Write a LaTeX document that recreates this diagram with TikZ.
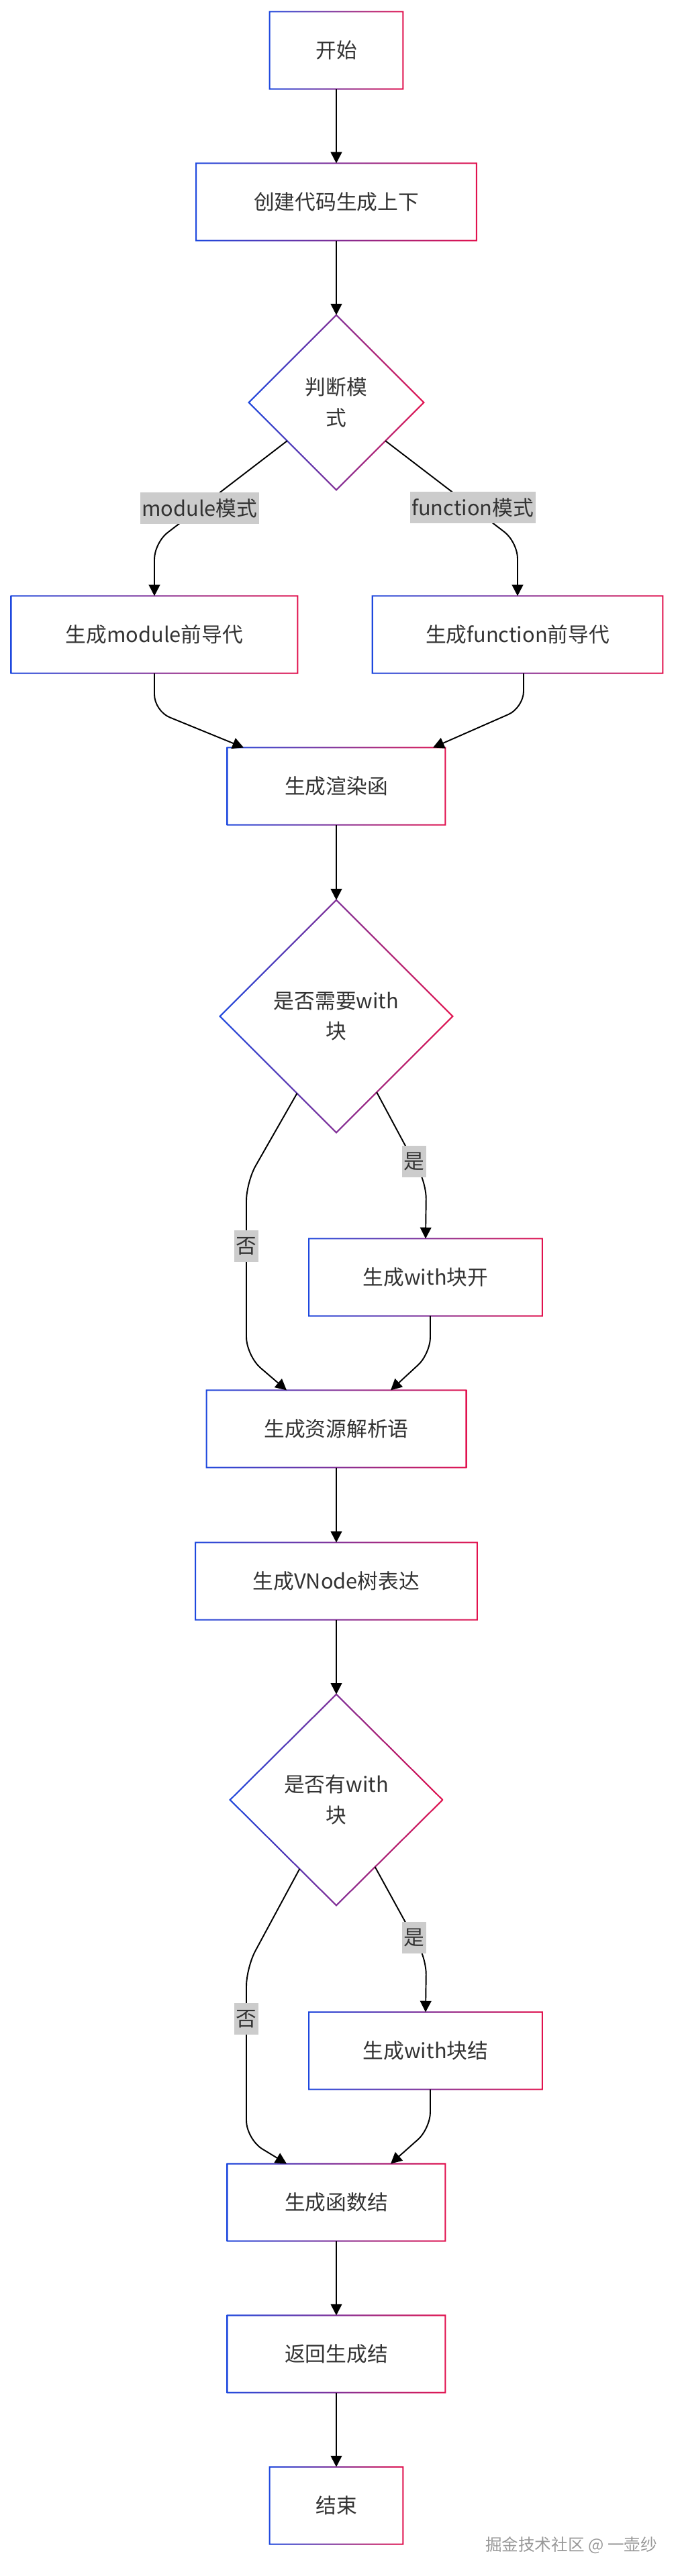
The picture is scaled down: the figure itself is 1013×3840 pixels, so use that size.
\documentclass[tikz,border=0pt]{standalone}
\usepackage{fontspec}
\setmainfont{Noto Sans CJK SC}
\usetikzlibrary{shapes.geometric,arrows.meta}
\definecolor{edgeblue}{RGB}{30,72,222}
\definecolor{edgered}{RGB}{226,18,78}
\definecolor{ink}{RGB}{51,51,51}
% gradient outline of a box / a diamond
\newcommand\ringbox[1]{\shade[left color=edgeblue, right color=edgered, even odd rule]
  ([shift={(-0.6pt,0.6pt)}]#1.north west) rectangle ([shift={(0.6pt,-0.6pt)}]#1.south east)
  ([shift={(0.6pt,-0.6pt)}]#1.north west) rectangle ([shift={(-0.6pt,0.6pt)}]#1.south east);}
\newcommand\ringdia[1]{\shade[left color=edgeblue, right color=edgered, even odd rule]
  ([yshift=0.85pt]#1.north) -- ([xshift=0.85pt]#1.east) -- ([yshift=-0.85pt]#1.south) -- ([xshift=-0.85pt]#1.west) -- cycle
  ([yshift=-0.85pt]#1.north) -- ([xshift=-0.85pt]#1.east) -- ([yshift=0.85pt]#1.south) -- ([xshift=0.85pt]#1.west) -- cycle;}
\begin{document}
\begin{tikzpicture}[x=0.02cm, y=-0.02cm,
    font=\fontsize{17.5pt}{26pt}\selectfont, text=ink,
    stepbox/.style={rectangle, fill=white, inner sep=0pt, minimum height=2.29cm},
    choice/.style={diamond, fill=white, inner sep=0pt, align=center},
    flow/.style={line width=1.1pt, -{Triangle[length=9.5pt, width=9.5pt]}},
    lbl/.style={sharp corners, fill=gray!40, inner sep=1.5pt, minimum height=0.94cm}]
  \fill[white] (0,0) rectangle (1013,3840);
  % boxes
  \node[stepbox, minimum width=3.96cm] (start) at (501,75) {开始};
  \node[stepbox, minimum width=8.34cm] (ctx) at (501,301) {创建代码生成上下};
  \node[choice, minimum width=5.2cm, minimum height=5.2cm] (mode) at (501,600) {判断模\\式};
  \node[stepbox, minimum width=8.52cm] (modm) at (230,946) {生成module前导代};
  \node[stepbox, minimum width=8.64cm] (modf) at (771,946) {生成function前导代};
  \node[stepbox, minimum width=6.48cm] (render) at (501,1172) {生成渲染函};
  \node[choice, minimum width=6.92cm, minimum height=6.92cm] (needw) at (501,1515) {是否需要with\\块};
  \node[stepbox, minimum width=6.94cm] (wopen) at (634,1904) {生成with块开};
  \node[stepbox, minimum width=7.72cm] (res) at (501,2130) {生成资源解析语};
  \node[stepbox, minimum width=8.38cm] (vnode) at (501,2357) {生成VNode树表达};
  \node[choice, minimum width=6.32cm, minimum height=6.28cm] (hasw) at (501,2683) {是否有with\\块};
  \node[stepbox, minimum width=6.94cm] (wclose) at (634,3057) {生成with块结};
  \node[stepbox, minimum width=6.48cm] (fend) at (501,3283) {生成函数结};
  \node[stepbox, minimum width=6.48cm] (ret) at (501,3509) {返回生成结};
  \node[stepbox, minimum width=3.96cm] (stop) at (501,3735) {结束};
  \foreach \n in {start,ctx,modm,modf,render,wopen,res,vnode,wclose,fend,ret,stop}
    \ringbox{\n};
  \foreach \n in {mode,needw,hasw}
    \ringdia{\n};
  % arrows
  \draw[flow] (start) -- (ctx);
  \draw[flow] (ctx) -- (mode);
  \draw[flow, rounded corners=14pt] (mode.-142) -- node[lbl, pos=0.66] {module模式} (230,809) -- (modm.north);
  \draw[flow, rounded corners=14pt] (mode.-38) -- node[lbl, pos=0.66] {function模式} (771,808) -- (modf.north);
  \draw[flow, rounded corners=14pt] (modm.south) -- (230,1060) -- ([xshift=-2.76cm]render.north);
  \draw[flow, rounded corners=14pt] ([xshift=0.18cm]modf.south) -- (780,1055) -- ([xshift=2.88cm]render.north);
  \draw[flow] (render) -- (needw);
  \draw[flow, rounded corners=12pt] (needw.-62) -- node[lbl, pos=0.75] {是} (635,1766) -- (wopen.north);
  \draw[flow, rounded corners=16pt] (needw.-117.4) -- (367,1762) -- node[lbl, pos=0.37] {否} (367,2021) -- ([xshift=-1.48cm]res.north);
  \draw[flow, rounded corners=14pt] ([xshift=0.14cm]wopen.south) -- (641,2018) -- ([xshift=1.62cm]res.north);
  \draw[flow] (res) -- (vnode);
  \draw[flow] (vnode) -- (hasw);
  \draw[flow, rounded corners=12pt] (hasw.-60.6) -- node[lbl, pos=0.76] {是} (635,2922) -- (wclose.north);
  \draw[flow, rounded corners=16pt] (hasw.-118.5) -- (367,2933) -- node[lbl, pos=0.30] {否} (367,3189) -- ([xshift=-1.48cm]fend.north);
  \draw[flow, rounded corners=14pt] ([xshift=0.14cm]wclose.south) -- (641,3173) -- ([xshift=1.62cm]fend.north);
  \draw[flow] (fend) -- (ret);
  \draw[flow] (ret) -- (stop);
  % watermark
  \node[font=\fontsize{14pt}{16pt}\selectfont, text=gray!80] (mark) at (851,3794) {掘金技术社区 @ 一壶纱};
\end{tikzpicture}
\end{document}
